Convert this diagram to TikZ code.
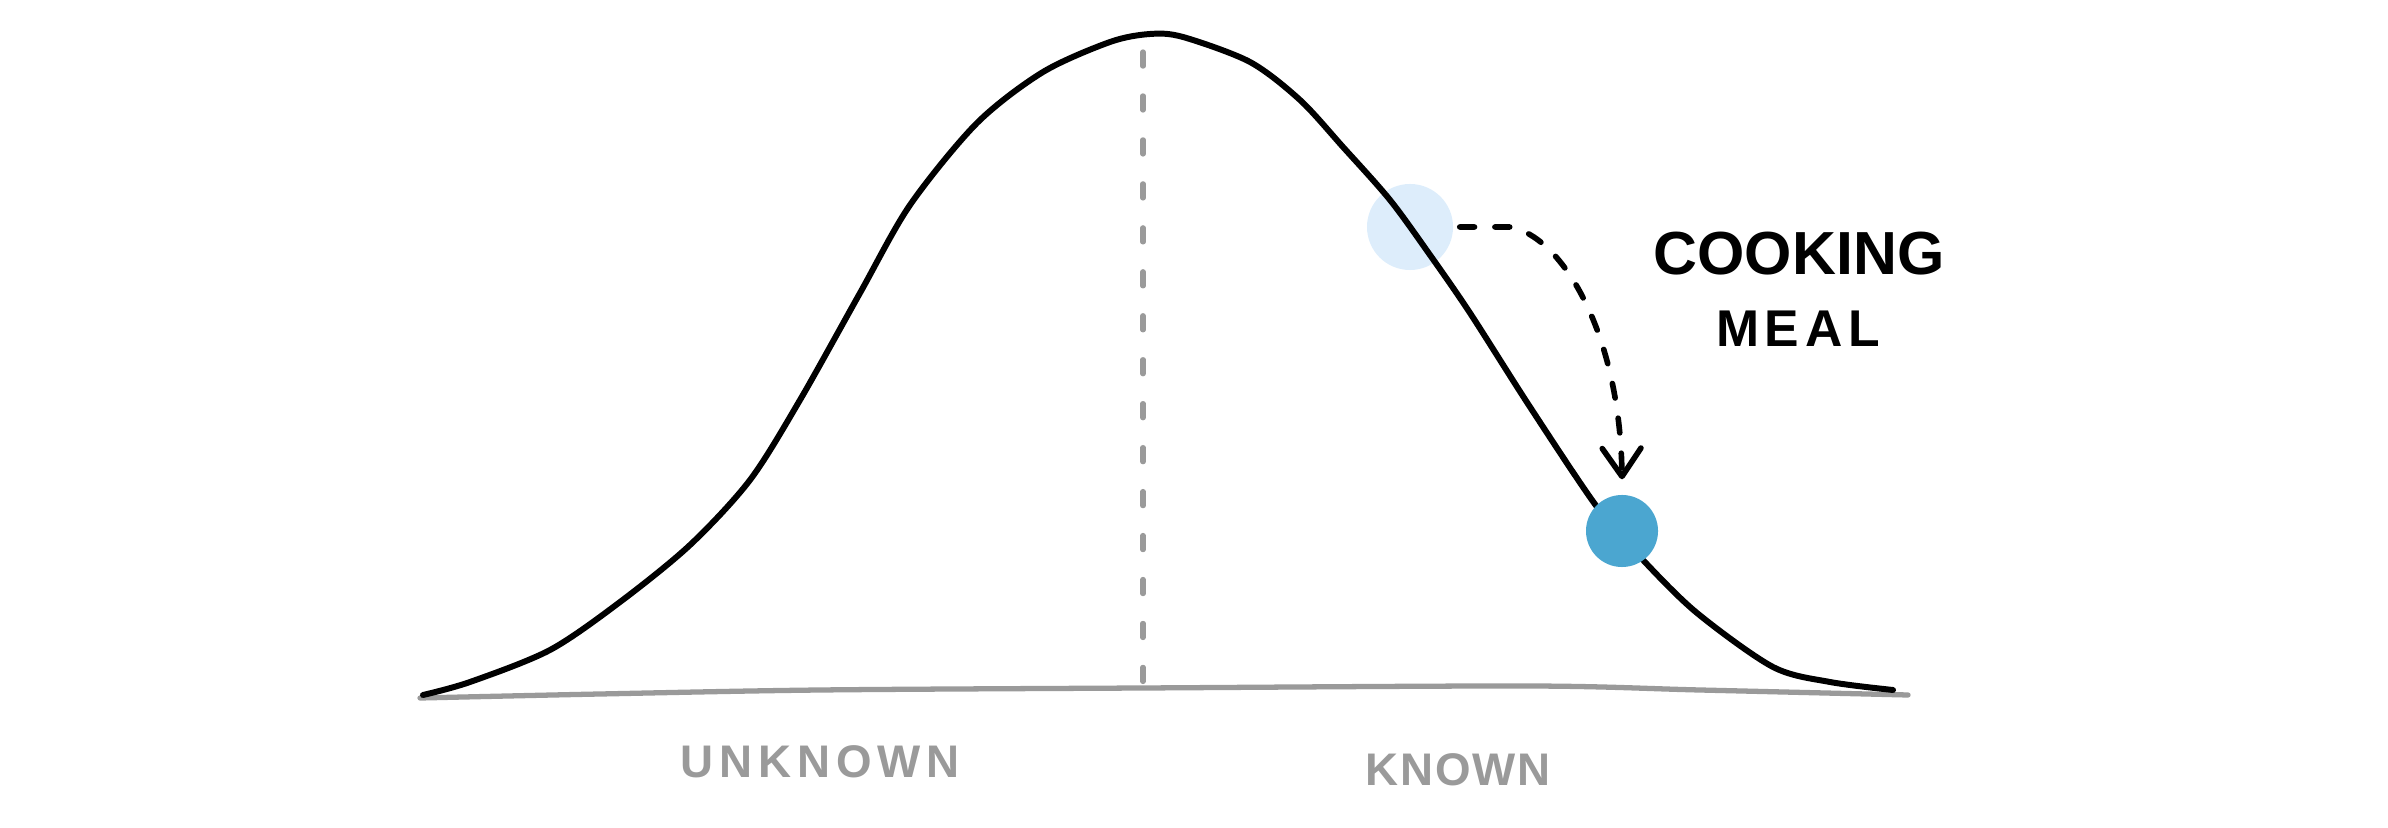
\documentclass[tikz,border=0pt]{standalone}
\usepackage{fontspec}
\setmainfont{Liberation Sans}
\usetikzlibrary{arrows.meta}

\definecolor{paleblue}{HTML}{DDEDFB}
\definecolor{dotblue}{HTML}{4BA6D0}
\definecolor{axisgray}{HTML}{9A9A9A}

\begin{document}
\begin{tikzpicture}[x=0.01cm, y=-0.01cm,
    blob/.style={circle, inner sep=0pt},
    notetext/.style={inner sep=0pt},
    axistext/.style={inner sep=0pt, text=axisgray},
    flow/.style={line width=1.6pt, line cap=round, dash pattern=on 4.2pt off 5.8pt,
        -{Straight Barb[length=8pt, width=11pt, round]}}]
    \useasboundingbox (0,0) rectangle (2388,828);
    % points on the curve
    \node[blob, fill=paleblue, minimum size=0.86cm] (before) at (1410,227) {};
    \coordinate (peak) at (1143,52);
    \coordinate (mid) at (1143,686);
    % axis
    \draw[axisgray, line width=1.5pt, line cap=round] plot[smooth] coordinates {(420,698) (600,694) (820,690) (1142,688) (1530,686) (1700,690) (1908,695)};
    \draw[axisgray, line width=1.5pt, line cap=round, dash pattern=on 4pt off 8.5pt] (peak) -- (mid);
    % bell
    \draw[line width=1.7pt, line cap=round, line join=round] plot[smooth] coordinates {(423,695) (470,682) (550,650) (620,602) (690,545) (750,480) (800,400) (860,293) (910,205) (977,123) (1043,72) (1110,42) (1150,34) (1183,37) (1250,62) (1300,100) (1343,147) (1390,200) (1430,255) (1470,313) (1530,407) (1597,507) (1643,560) (1697,613) (1773,667) (1830,682) (1893,690)};
    \node[blob, fill=dotblue, minimum size=0.72cm] (after) at (1622,531) {};
    % move
    \draw[flow] ([xshift=0.06cm]before.east) -- ++(50,0) .. controls (1560,235) and (1620,330) .. ([yshift=0.15cm]after.north);
    \node[notetext, font=\bfseries\fontsize{17.3}{17.3}\selectfont] (cooking) at (1799,254) {COOKING};
    \node[notetext, font=\bfseries\fontsize{14.7}{14.7}\selectfont\addfontfeatures{LetterSpace=11}] (meal) at (1798,329) {MEAL};
    \node[axistext, font=\bfseries\fontsize{13}{13}\selectfont\addfontfeatures{LetterSpace=13}] (unknown) at (820,762) {UNKNOWN};
    \node[axistext, font=\bfseries\fontsize{13}{13}\selectfont\addfontfeatures{LetterSpace=4}] (known) at (1458,770) {KNOWN};
\end{tikzpicture}
\end{document}
